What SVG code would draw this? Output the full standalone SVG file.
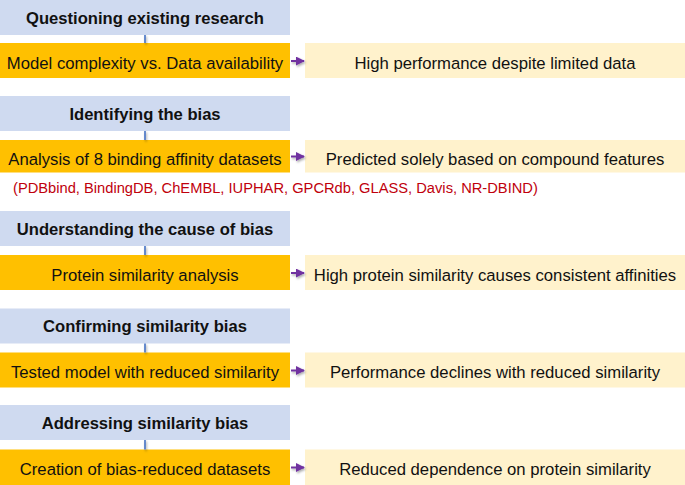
<svg xmlns="http://www.w3.org/2000/svg" width="685" height="485" viewBox="0 0 685 485">
<defs>
<style>
.hdr{fill:#CFDAF0}
.org{fill:#FFC000}
.lt{fill:#FFF2CC}
.ht{font-family:"Liberation Sans",Arial,sans-serif;font-size:16.6px;font-weight:bold;fill:#111;text-anchor:middle}
.bt{font-family:"Liberation Sans",Arial,sans-serif;font-size:16.7px;fill:#111;text-anchor:middle}
.red{font-family:"Liberation Sans",Arial,sans-serif;font-size:14.7px;fill:#C0000C}
.vl{stroke:#4472C4;stroke-width:1.6;fill:none}
.ar{stroke:#7030A0;stroke-width:2;fill:none}
</style>
<marker id="ah" viewBox="0 0 10 10" refX="9" refY="5" markerWidth="4.5" markerHeight="4.5" orient="auto" markerUnits="strokeWidth">
<path d="M0,0 L10,5 L0,10 z" fill="#7030A0"/>
</marker>
<filter id="sh" x="-50%" y="-50%" width="200%" height="200%">
<feDropShadow dx="1" dy="1.5" stdDeviation="0.8" flood-color="#000" flood-opacity="0.35"/>
</filter>
</defs>

<g id="b1-header"><rect class="hdr" x="0" y="-1" width="290" height="36"/><text class="ht" x="145" y="24.3">Questioning existing research</text></g>
<g id="b1-main"><rect class="org" x="0" y="43" width="290" height="35"/><text class="bt" x="145" y="69">Model complexity vs. Data availability</text></g>
<g id="b1-result"><rect class="lt" x="305" y="43" width="380" height="35"/><text class="bt" x="495" y="69">High performance despite limited data</text></g>

<g id="b2-header"><rect class="hdr" x="0" y="96" width="290" height="35"/><text class="ht" x="145" y="119.5">Identifying the bias</text></g>
<g id="b2-main"><rect class="org" x="0" y="140" width="290" height="32.5"/><text class="bt" x="145" y="165.3">Analysis of 8 binding affinity datasets</text></g>
<g id="b2-result"><rect class="lt" x="305" y="140" width="380" height="32.5"/><text class="bt" x="495" y="165.3">Predicted solely based on compound features</text></g>
<g id="b2-note"><text class="red" x="13" y="192.8">(PDBbind, BindingDB, ChEMBL, IUPHAR, GPCRdb, GLASS, Davis, NR-DBIND)</text></g>

<g id="b3-header"><rect class="hdr" x="0" y="211" width="290" height="35"/><text class="ht" x="145" y="234.5">Understanding the cause of bias</text></g>
<g id="b3-main"><rect class="org" x="0" y="255" width="290" height="35"/><text class="bt" x="145" y="280.8">Protein similarity analysis</text></g>
<g id="b3-result"><rect class="lt" x="305" y="255" width="380" height="35"/><text class="bt" x="495" y="280.8">High protein similarity causes consistent affinities</text></g>

<g id="b4-header"><rect class="hdr" x="0" y="308.5" width="290" height="35"/><text class="ht" x="145" y="332">Confirming similarity bias</text></g>
<g id="b4-main"><rect class="org" x="0" y="352.5" width="290" height="35"/><text class="bt" x="145" y="378.2">Tested model with reduced similarity</text></g>
<g id="b4-result"><rect class="lt" x="305" y="352.5" width="380" height="35"/><text class="bt" x="495" y="378.2">Performance declines with reduced similarity</text></g>

<g id="b5-header"><rect class="hdr" x="0" y="405" width="290" height="35"/><text class="ht" x="145" y="428.5">Addressing similarity bias</text></g>
<g id="b5-main"><rect class="org" x="0" y="449.5" width="290" height="36"/><text class="bt" x="145" y="475">Creation of bias-reduced datasets</text></g>
<g id="b5-result"><rect class="lt" x="305" y="449.5" width="380" height="36"/><text class="bt" x="495" y="475">Reduced dependence on protein similarity</text></g>

<g id="connectors" filter="url(#sh)">
<line class="vl" x1="145" y1="35" x2="145" y2="43"/>
<line class="vl" x1="145" y1="131" x2="145" y2="140"/>
<line class="vl" x1="145" y1="246" x2="145" y2="255"/>
<line class="vl" x1="145" y1="343.5" x2="145" y2="352.5"/>
<line class="vl" x1="145" y1="440" x2="145" y2="449.5"/>
<line class="ar" x1="291" y1="61" x2="304" y2="61" marker-end="url(#ah)"/>
<line class="ar" x1="291" y1="156.5" x2="304" y2="156.5" marker-end="url(#ah)"/>
<line class="ar" x1="291" y1="273" x2="304" y2="273" marker-end="url(#ah)"/>
<line class="ar" x1="291" y1="370.5" x2="304" y2="370.5" marker-end="url(#ah)"/>
<line class="ar" x1="291" y1="467.5" x2="304" y2="467.5" marker-end="url(#ah)"/>
</g>
</svg>
